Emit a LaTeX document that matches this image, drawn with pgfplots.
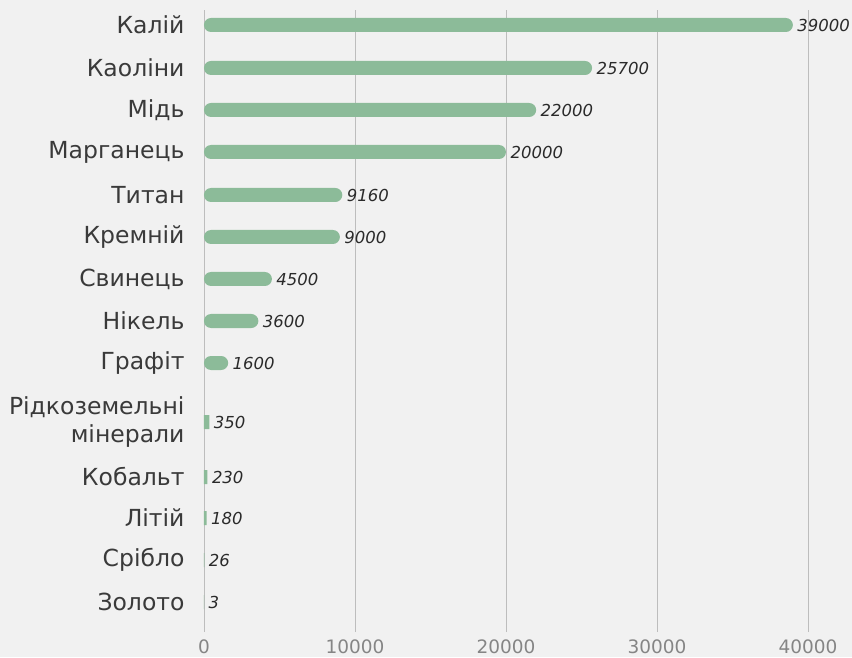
\documentclass[border=0pt]{standalone}
\usepackage{pgfplots}
\pgfplotsset{compat=1.18}
\usepackage{pgfplotstable}
\usepackage{fontspec}
\setmainfont{DejaVu Sans}
\definecolor{bg}{HTML}{F1F1F1}
\definecolor{barc}{HTML}{8CBB99}
\definecolor{gridc}{HTML}{BDBDBD}
\definecolor{lab}{HTML}{3A3A3A}
\definecolor{val}{HTML}{2A2A2A}
\definecolor{tickc}{HTML}{858585}
\pgfplotstableread{
y v l
-25 39000 39000
-68 25700 25700
-110 22000 22000
-152 20000 20000
-195 9160 9160
-237 9000 9000
-279 4500 4500
-321 3600 3600
-363 1600 1600
}\bigtable
\pgfplotstableread{
y v l
-422 350 350
-477 230 230
-518 180 180
-560 26 26
-602 3 3
}\smalltable
\begin{document}
\begin{tikzpicture}
\fill[bg] (-204pt,-25pt) rectangle (648pt,632pt);
\begin{axis}[
  at={(0pt,0pt)}, anchor=south west,
  scale only axis, width=604pt, height=622pt,
  xmin=0, xmax=40000, ymin=-632, ymax=-10,
  clip=false,
  axis line style={draw=none},
  major tick length=0pt,
  xtick={0,10000,20000,30000,40000},
  scaled x ticks=false,
  xmajorgrids, grid style={gridc, line width=0.8pt},
  /pgf/number format/1000 sep={},
  /pgf/number format/assume math mode=true,
  xticklabel style={font=\fontsize{18.5}{18.5}\selectfont, text=tickc, yshift=-4pt},
  ytick={-25,-68,-110,-152,-195,-237,-279,-321,-363,-422,-477,-518,-560,-602},
  yticklabels={Калій,Каоліни,Мідь,Марганець,Титан,Кремній,Свинець,Нікель,Графіт,{Рідкоземельні\\мінерали},Кобальт,Літій,Срібло,Золото},
  yticklabel style={align=right, font=\fontsize{23.5}{28}\selectfont, text=lab, xshift=-16pt},
  nodes near coords style={anchor=west, font=\fontsize{16.5}{16.5}\selectfont\itshape, text=val, xshift=1pt},
]
\addplot[xbar, bar width=14pt, fill=barc, draw=none, rounded corners=7pt,
  nodes near coords, point meta=explicit symbolic]
  table[x=v, y=y, meta=l] {\bigtable};
\addplot[xbar, bar width=14pt, fill=barc, draw=none,
  nodes near coords, point meta=explicit symbolic]
  table[x=v, y=y, meta=l] {\smalltable};
\end{axis}
\pgfresetboundingbox
\path[use as bounding box] (-204pt,-25pt) rectangle (648pt,632pt);
\end{tikzpicture}
\end{document}
